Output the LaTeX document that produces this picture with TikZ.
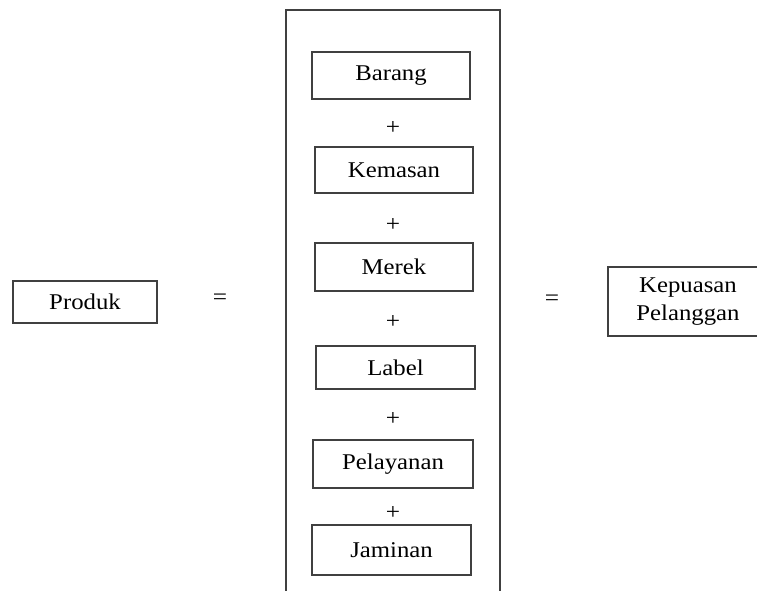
\documentclass[tikz,border=0pt]{standalone}
\usepackage{fontspec}
\setmainfont{Liberation Serif}[FakeStretch=1.1]
\begin{document}
\begin{tikzpicture}[x=1pt,y=-1pt,
  line/.style={draw=black!75,line width=1.1pt},
  itembox/.style={line,rectangle,inner sep=0pt,minimum width=158pt,minimum height=47pt,
    font=\fontsize{22.5}{26}\selectfont},
  sign/.style={inner sep=0pt,font=\fontsize{23}{26}\selectfont}]
\useasboundingbox (0,0) rectangle (757,591);
\clip (0,0) rectangle (757,591);
\fill[white] (0,0) rectangle (757,591);

% open frame holding the components
\coordinate (fbl) at (286,620);
\coordinate (fbr) at (500,620);
\draw[line] (fbl) |- (393,10) -| (fbr);

% components of the product
\node[itembox] (barang) at (391,75.5) {Barang};
\node[sign] (p1) at (393,128) {+};
\node[itembox,minimum height=46pt] (kemasan) at (394,170) {Kemasan};
\node[sign] (p2) at (393,225) {+};
\node[itembox,minimum height=48pt] (merek) at (394,267) {Merek};
\node[sign] (p3) at (393,322) {+};
\node[itembox,minimum width=159pt,minimum height=43pt] (label) at (395.5,367.5) {Label};
\node[sign] (p4) at (393,419) {+};
\node[itembox,minimum width=160pt,minimum height=48pt] (pelayanan) at (393,464) {Pelayanan};
\node[sign] (p5) at (393,513) {+};
\node[itembox,minimum width=159pt,minimum height=50pt] (jaminan) at (391.5,550) {Jaminan};

% left and right sides of the equation
\node[itembox,minimum width=144pt,minimum height=42pt] (produk) at (85,302) {Produk};
\node[sign] (eq1) at (220,299) {=};
\node[sign] (eq2) at (552,300) {=};
\node[itembox,minimum width=160pt,minimum height=69pt,align=center,
  font=\fontsize{22.5}{28}\selectfont] (kepuasan) at (688,301.5) {Kepuasan\\Pelanggan};
\end{tikzpicture}
\end{document}
